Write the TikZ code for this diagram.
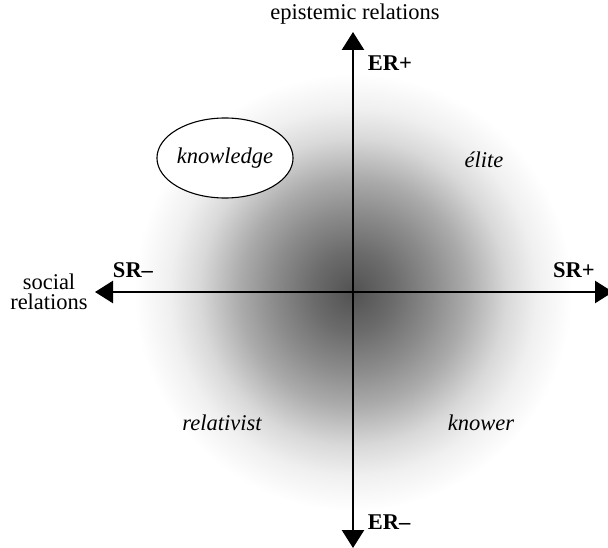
\documentclass[tikz,border=0pt]{standalone}
\usepackage{fontspec}
\setmainfont{Liberation Serif}
\usetikzlibrary{arrows.meta,shapes.geometric}
\pgfdeclareradialshading{glow}{\pgfpoint{0bp}{0bp}}{color(0bp)=(black!68); color(40bp)=(black!58); color(80bp)=(black!45); color(113bp)=(black!33); color(153bp)=(black!15); color(183bp)=(black!6); color(218bp)=(white)}
\begin{document}
\begin{tikzpicture}[x=1pt,y=-1pt,
  axis/.style={line width=2.6pt,-{Triangle[length=18pt,width=22pt]}},
  every node/.style={inner sep=0pt,font=\fontsize{22.5}{20}\selectfont}]
\useasboundingbox (0,0) rectangle (608,548);
% background glow
\coordinate (O) at (353,292);
\node (glow) at (O) {\pgfuseshading{glow}};
% axes
\coordinate (top) at (353,32);
\coordinate (bottom) at (353,548);
\coordinate (left) at (95,292);
\coordinate (right) at (613,292);
\draw [axis] (O) -- (top);
\draw [axis] (O) -- (bottom);
\draw [axis] (O) -- (left);
\draw [axis] (O) -- (right);
% axis labels
\node (er) at (355,14) {epistemic relations};
\node (sr) [align=center] at (49,292) {social\\relations};
\node (erplus) at (390,63) {\bfseries ER+};
\node (erminus) at (389,522) {\bfseries ER–};
\node (srminus) at (133,270) {\bfseries SR–};
\node (srplus) at (574,270) {\bfseries SR+};
% quadrants
\node (knowledge) [ellipse,draw,fill=white,line width=1.1pt,minimum width=126pt,minimum height=80pt] at (225,158) {\itshape knowledge};
\node (elite) at (484,160) {\itshape élite};
\node (relativist) at (222,423) {\itshape relativist};
\node (knower) at (481,423) {\itshape knower};
\end{tikzpicture}
\end{document}
